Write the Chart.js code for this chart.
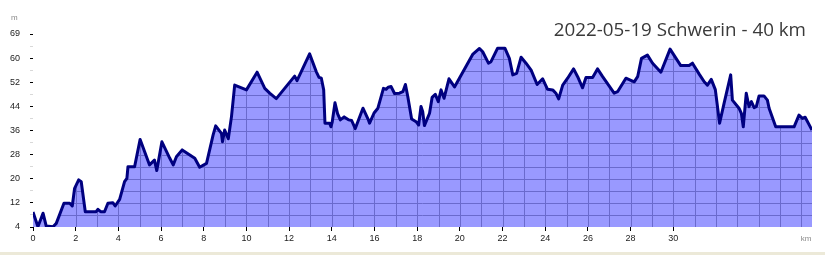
<!DOCTYPE html>
<html lang="de">
<head>
  <meta charset="UTF-8" />
  <title>Höhenprofil</title>
  <script src="https://cdn.jsdelivr.net/npm/chart.js"></script>
  <style>
    html, body { margin: 0; padding: 0; background: #fff; }
    #wrap { position: relative; width: 836px; height: 255px; }
    #strip { position: absolute; left: 0; top: 252px; width: 825px; height: 3px; background: #ece9d8; }
  </style>
</head>
<body>
  <div id="wrap">
    <canvas id="profile" width="836" height="255"></canvas>
    <div id="strip"></div>
  </div>

  <script>
    const chartTitle = "2022-05-19 Schwerin - 40 km";

    // distance (km) / elevation (m)
    const distKm = [
      0, 0.23, 0.47, 0.62, 0.94, 1.09, 1.45, 1.72, 1.84, 1.95, 2.14, 2.26, 2.45, 2.96, 3.04,
      3.17, 3.35, 3.51, 3.74, 3.85, 4.06, 4.29, 4.40, 4.45, 4.76, 5.02, 5.46, 5.69, 5.80, 6.04,
      6.41, 6.57, 6.72, 6.99, 7.58, 7.81, 8.13, 8.44, 8.56, 8.83, 8.88, 8.98, 9.15, 9.30, 9.45,
      10.0, 10.5, 10.86, 11.09, 11.40, 12.26, 12.37, 12.57, 12.96, 13.27, 13.40, 13.51, 13.62, 13.68, 13.90,
      13.96, 14.02, 14.15, 14.27, 14.40, 14.58, 14.80, 14.93, 15.10, 15.46, 15.72, 15.77, 15.98, 16.16, 16.42,
      16.55, 16.64, 16.78, 16.94, 17.17, 17.33, 17.45, 17.56, 17.74, 17.95, 18.07, 18.18, 18.26, 18.34, 18.58,
      18.70, 18.85, 18.99, 19.12, 19.26, 19.49, 19.75, 20.60, 20.92, 21.07, 21.34, 21.46, 21.77, 22.11, 22.32,
      22.48, 22.66, 22.87, 23.10, 23.34, 23.62, 23.88, 24.11, 24.35, 24.50, 24.63, 24.82, 25.05, 25.33, 25.52,
      25.75, 25.91, 26.22, 26.45, 26.69, 27.23, 27.39, 27.78, 28.17, 28.33, 28.51, 28.79, 29.03, 29.42, 29.85,
      30.35, 30.74, 30.90, 31.23, 31.45, 31.60, 31.78, 31.97, 32.17, 32.38, 32.69, 32.77, 33.08, 33.19, 33.28,
      33.42, 33.55, 33.66, 33.79, 33.89, 34.02, 34.25, 34.41, 34.49, 34.80, 35.66, 35.89, 36.05, 36.18, 36.5
    ];
    const elevM = [
      9, 4.1, 8.6, 4.3, 4.1, 5.2, 11.9, 11.9, 11, 16.9, 19.7, 19.1, 9.1, 9.1, 9.9,
      9.1, 9.1, 11.9, 12.1, 11, 13.2, 19.1, 20.2, 24.1, 24.1, 33.2, 24.7, 26.3, 22.8, 32.4,
      26.9, 24.7, 27.4, 29.7, 26.9, 23.9, 25.2, 34.7, 37.7, 35.2, 32.4, 36.3, 33.4, 40.8, 51.3,
      49.7, 55.6, 50.2, 48.6, 46.8, 54.3, 52.8, 55.8, 61.7, 55.8, 53.9, 53.6, 49.7, 38.6, 38.6,
      37.4, 39, 45.4, 41.8, 39.7, 40.7, 39.7, 39.5, 36.8, 43.6, 39.6, 38.6, 42, 43.6, 50.2,
      49.9, 50.6, 50.8, 48.5, 48.6, 49.1, 51.5, 47.5, 40, 39.1, 38, 44.2, 42.4, 37.8, 41.9,
      47.2, 48.2, 45.8, 49.7, 46.9, 53.4, 50.7, 61.5, 63.5, 62.4, 58.6, 59.1, 63.6, 63.6, 60.2,
      54.7, 55.2, 60.6, 58.6, 56.3, 51.5, 53.4, 49.9, 49.7, 48.6, 46.7, 51.3, 53.6, 56.7, 54.1,
      50.4, 53.8, 53.8, 56.7, 54.1, 48.6, 49.1, 53.6, 52.4, 54.1, 60.2, 61.3, 58.6, 55.6, 63.3,
      57.8, 57.8, 58.6, 54.8, 52.4, 51.3, 53.2, 49.8, 38.6, 45.2, 54.7, 46.3, 43.6, 41.9, 37.4,
      48.6, 44.1, 45.8, 43.8, 44.1, 47.7, 47.7, 46.3, 43.6, 37.4, 37.4, 41.3, 40.2, 40.6, 36.3
    ];

    const xTicks = [0, 2, 4, 6, 8, 10, 12, 14, 16, 18, 20, 22, 24, 26, 28, 30];
    const yTicks = [4, 8, 12, 16, 20, 24, 28, 32, 36, 40, 44, 48, 52, 56, 60, 64, 68.33];
    const yTickLabels = ["4", "", "12", "", "20", "", "28", "", "36", "", "44", "", "52", "", "60", "", "69"];

    const points = distKm.map((d, i) => ({ x: d, y: elevM[i] }));
    const tickFont = { family: "Liberation Sans", size: 9 };

    // grid lines that only show inside the filled area
    const fillGrid = {
      id: "fillGrid",
      afterDatasetDraw(chart, args) {
        if (args.index !== 1) return;
        const { ctx, chartArea: a, scales: { x, y } } = chart;
        ctx.save();
        ctx.beginPath();
        ctx.rect(a.left, a.top, a.right - a.left, a.bottom - a.top);
        ctx.clip();
        ctx.globalCompositeOperation = "source-atop";
        ctx.strokeStyle = "#6a6acd";
        ctx.lineWidth = 1;
        ctx.beginPath();
        for (let k = 1; k <= 36; k++) {
          const px = Math.round(x.getPixelForValue(k)) + 0.5;
          ctx.moveTo(px, a.top);
          ctx.lineTo(px, a.bottom);
        }
        for (let m = 8; m <= 64; m += 4) {
          const py = Math.round(y.getPixelForValue(m)) + 0.5;
          ctx.moveTo(a.left, py);
          ctx.lineTo(a.right, py);
        }
        ctx.stroke();
        ctx.restore();
      }
    };

    const extraText = {
      id: "extraText",
      afterDraw(chart) {
        const ctx = chart.ctx;
        ctx.save();
        ctx.fillStyle = "#8a8a8a";
        ctx.font = "8px 'Liberation Sans'";
        ctx.textBaseline = "middle";
        ctx.textAlign = "left";
        ctx.fillText("m", 11, 18);
        ctx.textAlign = "center";
        ctx.fillText("km", 806, 239);

        ctx.fillStyle = "#3a3a3a";
        ctx.textAlign = "right";
        ctx.textBaseline = "alphabetic";
        ctx.font = "21px 'Open Sans'";
        const w = ctx.measureText(chartTitle).width;
        const size = 21 * 252 / w;
        ctx.font = size.toFixed(1) + "px 'Open Sans'";
        ctx.fillText(chartTitle, 806, 36);
        ctx.restore();
      }
    };

    new Chart(document.getElementById("profile"), {
      type: "line",
      data: {
        datasets: [
          {
            data: points,
            borderColor: "#000080",
            borderWidth: 3,
            borderJoinStyle: "round",
            pointRadius: 0,
            tension: 0,
            fill: false
          },
          {
            data: points,
            borderWidth: 0,
            pointRadius: 0,
            tension: 0,
            backgroundColor: "#9999ff",
            fill: "start"
          }
        ]
      },
      options: {
        responsive: false,
        animation: false,
        events: [],
        layout: { padding: { left: 0, right: 24, top: 34, bottom: 0 } },
        plugins: { legend: { display: false }, tooltip: { enabled: false } },
        scales: {
          x: {
            type: "linear",
            min: 0,
            max: 36.5,
            afterFit: s => { s.height = 28; },
            afterBuildTicks: s => { s.ticks = xTicks.map(v => ({ value: v })); },
            border: { display: false },
            grid: { drawOnChartArea: false, drawTicks: true, tickLength: 4, tickColor: "#000" },
            ticks: { font: tickFont, color: "#222", padding: 2, maxRotation: 0, autoSkip: false }
          },
          y: {
            min: 4,
            max: 68.33,
            afterFit: s => { s.width = 33; },
            afterBuildTicks: s => { s.ticks = yTicks.map(v => ({ value: v })); },
            border: { display: false },
            grid: {
              drawOnChartArea: false,
              drawTicks: true,
              tickLength: 3,
              tickColor: c => (yTickLabels[c.index] === "" ? "#d8d8d8" : "#000")
            },
            ticks: {
              font: tickFont,
              color: "#222",
              padding: 10,
              autoSkip: false,
              callback: (v, i) => yTickLabels[i]
            }
          }
        }
      },
      plugins: [fillGrid, extraText]
    });
  </script>
</body>
</html>
